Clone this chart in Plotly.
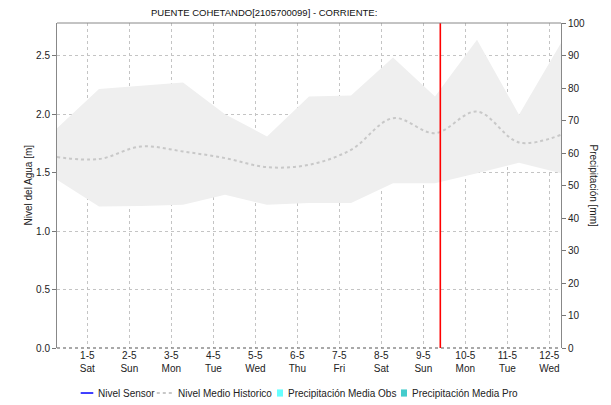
import plotly.graph_objects as go

# ---- data ----
times = ["2021-04-30 06:40", "2021-05-01 06:40", "2021-05-02 06:40", "2021-05-03 06:40",
         "2021-05-04 06:40", "2021-05-05 06:40", "2021-05-06 06:40", "2021-05-07 06:40",
         "2021-05-08 06:40", "2021-05-09 06:40", "2021-05-10 06:40", "2021-05-11 06:40",
         "2021-05-12 06:40"]
nivel_max = [1.88, 2.215, 2.243, 2.271, 2.00, 1.81, 2.152, 2.16, 2.485, 2.152, 2.637, 1.995, 2.609]
nivel_min = [1.44, 1.21, 1.215, 1.225, 1.31, 1.225, 1.24, 1.24, 1.41, 1.41, 1.495, 1.585, 1.495]
nivel_medio = [1.633, 1.616, 1.724, 1.681, 1.624, 1.547, 1.567, 1.695, 1.966, 1.838, 2.023, 1.758, 1.824]

tick_dates = ["2021-05-%02d" % d for d in range(1, 13)]
tick_labels = ["1-5<br>Sat", "2-5<br>Sun", "3-5<br>Mon", "4-5<br>Tue", "5-5<br>Wed", "6-5<br>Thu",
               "7-5<br>Fri", "8-5<br>Sat", "9-5<br>Sun", "10-5<br>Mon", "11-5<br>Tue", "12-5<br>Wed"]
now_time = "2021-05-09 09:42"
x_range = ["2021-04-30 06:40", "2021-05-12 06:40"]

series_names = ["Nivel Sensor", "Nivel Medio Historico",
                "Precipitación Media Obs", "Precipitación Media Pro"]
series_colors = ["#0000ff", "#c8c8c8", "#66ffff", "#44cccc"]

title_text = "PUENTE COHETANDO[2105700099] - CORRIENTE:"
font_family = "Liberation Sans, Arial, sans-serif"

fig = go.Figure()

# historic band
fig.add_trace(go.Scatter(x=times, y=nivel_max, mode="lines", line=dict(width=0, color="#efefef"),
                         showlegend=False, hoverinfo="skip"))
fig.add_trace(go.Scatter(x=times, y=nivel_min, mode="lines", line=dict(width=0, color="#efefef"),
                         fill="tonexty", fillcolor="#efefef", showlegend=False, hoverinfo="skip"))

# series (legend drawn manually below)
fig.add_trace(go.Scatter(x=[None], y=[None], mode="lines", name=series_names[0],
                         line=dict(color=series_colors[0], width=1.5), showlegend=False))
fig.add_trace(go.Scatter(x=times, y=nivel_medio, mode="lines", name=series_names[1],
                         line=dict(color=series_colors[1], width=2, dash="dot", shape="spline"),
                         showlegend=False))
fig.add_trace(go.Bar(x=[None], y=[None], name=series_names[2],
                     marker_color=series_colors[2], yaxis="y2", showlegend=False))
fig.add_trace(go.Bar(x=[None], y=[None], name=series_names[3],
                     marker_color=series_colors[3], yaxis="y2", showlegend=False))

# current time line
fig.add_shape(type="line", xref="x", yref="paper", x0=now_time, x1=now_time, y0=0, y1=1,
              line=dict(color="#ff0000", width=1.6))
# dotted bottom axis
fig.add_shape(type="line", xref="paper", yref="paper", x0=0, x1=1, y0=0, y1=0,
              line=dict(color="#555555", width=1.2, dash="dot"))
# top border
fig.add_shape(type="line", xref="paper", yref="paper", x0=0, x1=1, y0=1, y1=1,
              line=dict(color="#888888", width=1))

# ---- manual legend (paper coordinates, below plot) ----
ly = -0.1385
leg_font = dict(size=10, color="#222222", family=font_family)
fig.add_shape(type="line", xref="paper", yref="paper", x0=0.047, x1=0.072, y0=ly, y1=ly,
              line=dict(color=series_colors[0], width=1.5))
fig.add_shape(type="line", xref="paper", yref="paper", x0=0.198, x1=0.228, y0=ly, y1=ly,
              line=dict(color=series_colors[1], width=2, dash="dot"))
fig.add_shape(type="rect", xref="paper", yref="paper", x0=0.4365, x1=0.4484,
              y0=ly - 0.011, y1=ly + 0.011, line=dict(width=0), fillcolor=series_colors[2])
fig.add_shape(type="rect", xref="paper", yref="paper", x0=0.6825, x1=0.6944,
              y0=ly - 0.011, y1=ly + 0.011, line=dict(width=0), fillcolor=series_colors[3])

legend_text_x = [0.0768, 0.2361, 0.4544, 0.7004]
annotations = [
    dict(text=title_text, xref="paper", yref="paper", x=0.4117, y=1.0, yshift=11,
         xanchor="center", yanchor="middle", showarrow=False,
         font=dict(size=9.5, color="#111111", family=font_family)),
    dict(text="Nivel del Agua [m]", xref="paper", yref="paper", x=0, xshift=-29, y=0.5,
         xanchor="center", yanchor="middle", textangle=-90, showarrow=False,
         font=dict(size=10, color="#222222", family=font_family)),
    dict(text="Precipitación [mm]", xref="paper", yref="paper", x=1, xshift=32, y=0.5,
         xanchor="center", yanchor="middle", textangle=90, showarrow=False,
         font=dict(size=10, color="#222222", family=font_family)),
]
for name, tx in zip(series_names, legend_text_x):
    annotations.append(dict(text=name, xref="paper", yref="paper", x=tx, y=ly,
                            xanchor="left", yanchor="middle", showarrow=False, font=leg_font))

fig.update_layout(
    width=611, height=405,
    margin=dict(l=57, r=50, t=23, b=57, autoexpand=False),
    paper_bgcolor="white", plot_bgcolor="white",
    font=dict(family=font_family, size=10, color="#222222"),
    showlegend=False,
    bargap=0.2,
    annotations=annotations,
    xaxis=dict(
        type="date", range=x_range, tickvals=tick_dates, ticktext=tick_labels,
        showgrid=True, gridcolor="#c4c4c4", griddash="dot", gridwidth=1,
        ticks="", showline=False, zeroline=False, tickfont=dict(size=10),
        automargin=False,
    ),
    yaxis=dict(
        range=[0, 2.78], tickvals=[0, 0.5, 1.0, 1.5, 2.0, 2.5],
        ticktext=["0.0", "0.5", "1.0", "1.5", "2.0", "2.5"],
        showgrid=True, gridcolor="#c4c4c4", griddash="dot", gridwidth=1,
        ticks="outside", ticklen=4, tickcolor="#777777",
        showline=True, linecolor="#888888", linewidth=1, zeroline=False,
        tickfont=dict(size=10), automargin=False,
    ),
    yaxis2=dict(
        range=[0, 100], dtick=10, overlaying="y", side="right",
        showgrid=False, ticks="outside", ticklen=4, tickcolor="#777777",
        showline=True, linecolor="#888888", linewidth=1, zeroline=False,
        tickfont=dict(size=10), automargin=False,
    ),
)

fig.write_html("out.html", config={"displayModeBar": False},
               post_script="document.body.style.margin='0px';")
